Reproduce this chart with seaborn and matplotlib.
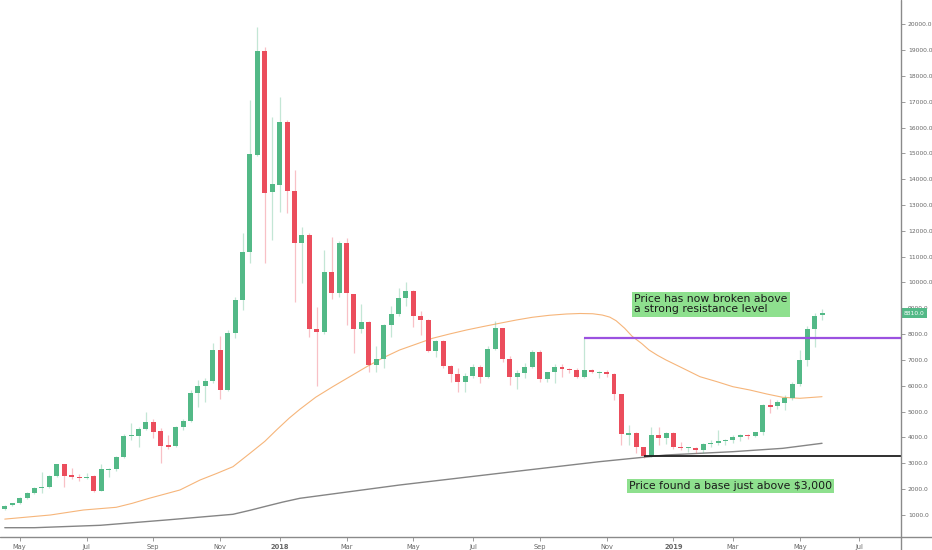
import matplotlib
matplotlib.use("Agg")
import matplotlib.pyplot as plt
import matplotlib.transforms as mtransforms
from matplotlib.lines import Line2D
import numpy as np
import pandas as pd
import seaborn as sns

# ---------------- data (weekly BTC candles) ----------------
first_week = "2017-04-17"

opens = [1220, 1375, 1450, 1645, 1840, 2040, 2070, 2510, 2960, 2530, 2480, 2440, 2500, 1930, 2740, 2770, 3240, 4060, 4070, 4340,
         4610, 4250, 3700, 3680, 4420, 4640, 5730, 5990, 6190, 7390, 5840, 8060, 9320, 11170, 14940, 18980, 13500, 13760, 16230, 13560,
         11520, 11840, 8190, 8070, 10420, 9605, 11520, 9545, 8210, 8470, 6810, 7040, 8370, 8790, 9410, 9670, 8690, 8540, 7360, 7735,
         6780, 6460, 6160, 6380, 6710, 6350, 7410, 8230, 7040, 6330, 6490, 6720, 7310, 6250, 6520, 6740, 6640, 6610, 6350, 6600,
         6500, 6520, 6460, 5670, 4080, 4190, 3640, 3300, 4080, 3980, 4190, 3620, 3580, 3590, 3500, 3760, 3780, 3850, 3900, 4020,
         4100, 4060, 4200, 5260, 5220, 5320, 5520, 6060, 7000, 8190, 8745]

closes = [1360, 1460, 1645, 1840, 2055, 2075, 2510, 2960, 2510, 2480, 2440, 2480, 1930, 2770, 2780, 3240, 4070, 4090, 4340, 4610,
          4225, 3680, 3640, 4420, 4640, 5730, 5990, 6190, 7390, 5840, 8060, 9320, 11170, 14960, 18980, 13480, 13800, 16230, 13560, 11520,
          11840, 8190, 8070, 10420, 9605, 11520, 9580, 8210, 8470, 6810, 7040, 8370, 8790, 9410, 9670, 8690, 8540, 7360, 7735, 6780,
          6460, 6160, 6380, 6710, 6350, 7410, 8230, 7040, 6330, 6490, 6720, 7310, 6250, 6520, 6740, 6640, 6600, 6350, 6610, 6520,
          6520, 6460, 5670, 4120, 4190, 3640, 3300, 4080, 3980, 4190, 3620, 3580, 3600, 3500, 3760, 3800, 3850, 3900, 4020, 4100,
          4060, 4200, 5260, 5190, 5360, 5520, 6060, 7000, 8190, 8715, 8810]

highs = [1380, 1480, 1680, 1870, 2100, 2680, 2560, 2990, 2980, 2800, 2580, 2640, 2560, 2970, 2800, 3280, 4150, 4550, 4400, 4970,
         4700, 4380, 4100, 4450, 4700, 5850, 6220, 6300, 7650, 7940, 8150, 9450, 11900, 17070, 19900, 19130, 16420, 17190, 16300, 14360,
         12160, 11900, 9060, 11260, 11780, 11600, 11720, 9560, 9170, 8500, 7540, 8400, 9090, 9780, 10010, 9700, 8880, 8600, 7760, 7760,
         6800, 6700, 6500, 6830, 6800, 7550, 8500, 8250, 7150, 6600, 6900, 7400, 7400, 6550, 6830, 6850, 6700, 6700, 7880, 6650,
         6560, 6600, 6480, 5700, 4480, 4200, 3650, 4400, 4420, 4200, 4200, 3840, 3650, 3620, 3800, 3900, 4290, 3950, 4100, 4150,
         4150, 4220, 5300, 5480, 5460, 5640, 6150, 7390, 8300, 8800, 8960]

lows = [1200, 1360, 1420, 1620, 1800, 1840, 2060, 2480, 2070, 2380, 2300, 2400, 1880, 1920, 2480, 2720, 3200, 3900, 3650, 4300,
        3980, 3000, 3550, 3650, 4300, 4600, 5190, 5390, 6100, 5480, 5800, 7850, 8940, 10740, 14900, 10740, 11650, 12740, 12680, 9260,
        9970, 7900, 6000, 8000, 9350, 9450, 8360, 7260, 8030, 6550, 6550, 6680, 7900, 8700, 9100, 8290, 7970, 7300, 7130, 6680,
        6160, 5770, 5770, 6300, 6100, 6300, 7400, 6920, 6030, 5880, 6300, 6700, 6150, 6150, 6120, 6350, 6480, 6300, 6300, 6480,
        6300, 6350, 5450, 3700, 3700, 3390, 3200, 3250, 3700, 3750, 3550, 3500, 3450, 3380, 3400, 3650, 3700, 3700, 3800, 3850,
        3950, 4000, 4100, 4940, 5100, 5050, 5450, 6000, 6750, 7510, 8550]

# moving averages
ma_fast_dates = ["2017-04-17", "2017-05-30", "2017-06-30", "2017-07-31", "2017-08-15", "2017-08-31", "2017-09-14",
                 "2017-09-29", "2017-10-18", "2017-11-03", "2017-11-18", "2017-12-04", "2017-12-18", "2017-12-29",
                 "2018-01-10", "2018-01-20", "2018-02-04", "2018-02-20", "2018-03-08", "2018-03-24", "2018-04-08",
                 "2018-04-24", "2018-05-10", "2018-05-25", "2018-06-10", "2018-06-26", "2018-07-11", "2018-07-27",
                 "2018-08-12", "2018-08-27", "2018-09-12", "2018-09-28", "2018-10-11", "2018-10-23", "2018-11-01",
                 "2018-11-08", "2018-11-14", "2018-11-22", "2018-11-29", "2018-12-08", "2018-12-15", "2018-12-23",
                 "2018-12-31", "2019-01-16", "2019-02-01", "2019-02-17", "2019-03-04", "2019-03-20", "2019-04-05",
                 "2019-04-20", "2019-05-06", "2019-05-27"]
ma_fast_values = [840, 999, 1192, 1297, 1450, 1645, 1800,
                  1967, 2354, 2613, 2869, 3388, 3850, 4290,
                  4750, 5091, 5560, 5966, 6353, 6740, 7077,
                  7387, 7620, 7840, 8006, 8161, 8289, 8420,
                  8548, 8653, 8730, 8780, 8800, 8790, 8740,
                  8660, 8520, 8230, 7920, 7640, 7387, 7180,
                  7000, 6678, 6353, 6160, 5966, 5838, 5683,
                  5555, 5517, 5579]

ma_slow_dates = ["2017-04-17", "2017-05-15", "2017-07-16", "2017-09-16", "2017-11-18", "2017-12-04", "2017-12-20",
                 "2018-01-04", "2018-01-20", "2018-04-24", "2018-07-27", "2018-10-29", "2018-12-31", "2019-03-04",
                 "2019-04-20", "2019-05-27"]
ma_slow_values = [507, 507, 600, 805, 1026, 1180, 1347,
                  1500, 1645, 2160, 2613, 3062, 3322, 3450,
                  3580, 3775]

x_tick_dates = ["2017-05-01", "2017-07-03", "2017-09-04", "2017-11-06", "2018-01-01", "2018-03-05", "2018-05-07",
                "2018-07-02", "2018-09-03", "2018-11-05", "2019-01-07", "2019-03-04", "2019-05-06", "2019-07-01"]
x_tick_labels = ["May", "Jul", "Sep", "Nov", "2018", "Mar", "May", "Jul", "Sep", "Nov", "2019", "Mar", "May", "Jul"]
y_ticks = [1000, 2000, 3000, 4000, 5000, 6000, 7000, 8000, 9000, 10000,
           11000, 12000, 13000, 14000, 15000, 16000, 17000, 18000, 19000, 20000]

resistance_level = 7850
resistance_start = "2018-10-15"
support_level = 3280
support_start = "2018-12-10"
last_price = 8810.0
note_top = "Price has now broken above\na strong resistance level"
note_top_pos = ("2018-12-01", 9150)
note_bottom = "Price found a base just above $3,000"
note_bottom_pos = ("2018-11-26", 2120)

# ---------------- style ----------------
UP = "#53b987"
DOWN = "#eb4d5c"
sns.set_theme(style="white")
plt.rcParams["font.family"] = ["DejaVu Sans"]

fig = plt.figure(figsize=(9.32, 5.5), dpi=100)
fig.patch.set_facecolor("white")
ax = fig.add_axes([0, 13 / 550, 901 / 932, 537 / 550])
ax.set_facecolor("white")

dates = pd.date_range(first_week, periods=len(opens), freq="7D")
df = pd.DataFrame({"date": dates, "open": opens, "high": highs, "low": lows, "close": closes})
df["up"] = df["close"] >= df["open"]
df["color"] = np.where(df["up"], UP, DOWN)
df["bottom"] = df[["open", "close"]].min(axis=1)
df["height"] = np.maximum((df["close"] - df["open"]).abs(), 35)

# moving averages via seaborn
fast = pd.DataFrame({"date": pd.to_datetime(ma_fast_dates), "value": ma_fast_values})
slow = pd.DataFrame({"date": pd.to_datetime(ma_slow_dates), "value": ma_slow_values})
sns.lineplot(data=fast, x="date", y="value", ax=ax, color="#f6b57a", linewidth=0.8, zorder=1)
sns.lineplot(data=slow, x="date", y="value", ax=ax, color="#858585", linewidth=1.0, zorder=1)

# wicks and bodies
ax.vlines(df["date"], df["low"], df["high"], colors=df["color"], linewidth=0.9, alpha=0.35, zorder=2)
ax.bar(df["date"], df["height"], bottom=df["bottom"], width=4.7, color=df["color"],
       edgecolor="none", linewidth=0, zorder=3)

# limits
base = pd.Timestamp("2018-01-01")
x_right = base + pd.Timedelta(days=585.4)
ax.set_xlim(base - pd.Timedelta(days=263.5), x_right)
ax.set_ylim(147, 20937)

# level lines
ax.hlines(resistance_level, pd.Timestamp(resistance_start), x_right,
          color="#9b51e0", linewidth=1.6, zorder=4)
ax.hlines(support_level, pd.Timestamp(support_start), x_right,
          color="#1f1f1f", linewidth=1.3, zorder=4)

# notes
box = dict(boxstyle="square,pad=0.2", facecolor="#8ee08e", edgecolor="none")
ax.text(pd.Timestamp(note_top_pos[0]), note_top_pos[1], note_top, fontsize=7.85, color="#1a1a1a",
        ha="left", va="center", linespacing=1.0, bbox=box, zorder=6)
ax.text(pd.Timestamp(note_bottom_pos[0]), note_bottom_pos[1], note_bottom, fontsize=7.85, color="#1a1a1a",
        ha="left", va="center", bbox=box, zorder=6)

# axes / ticks
for s in ax.spines.values():
    s.set_visible(False)
ax.set_xlabel("")
ax.set_ylabel("")
ax.grid(False)

ax.yaxis.tick_right()
ax.set_yticks(y_ticks)
ax.set_yticklabels([f"{v:.1f}" for v in y_ticks])
ax.tick_params(axis="y", which="both", right=True, left=False, length=3, width=0.6, color="#8a8a8a",
               labelsize=4.3, labelcolor="#666666", pad=2)

ax.set_xticks(pd.to_datetime(x_tick_dates))
ax.set_xticklabels(x_tick_labels)
ax.tick_params(axis="x", which="both", bottom=True, length=3, width=0.6, color="#8a8a8a",
               labelsize=4.8, labelcolor="#666666", pad=2)
for lab in ax.get_xticklabels():
    if lab.get_text().isdigit():
        lab.set_fontweight("bold")

# frame lines of the price / time scales
fig.add_artist(Line2D([901 / 932, 901 / 932], [0, 1], transform=fig.transFigure, color="#8a8a8a", linewidth=1.0))
fig.add_artist(Line2D([0, 1], [13 / 550, 13 / 550], transform=fig.transFigure, color="#8a8a8a", linewidth=1.0))

# last price tag
trans = mtransforms.blended_transform_factory(ax.transAxes, ax.transData)
ax.text(1.003, last_price, f"{last_price:.1f}", transform=trans, fontsize=4.3, color="white",
        ha="left", va="center", clip_on=False, zorder=10,
        bbox=dict(boxstyle="square,pad=0.45", facecolor=UP, edgecolor="none"))

fig.savefig("out.png", dpi=100, facecolor="white")
